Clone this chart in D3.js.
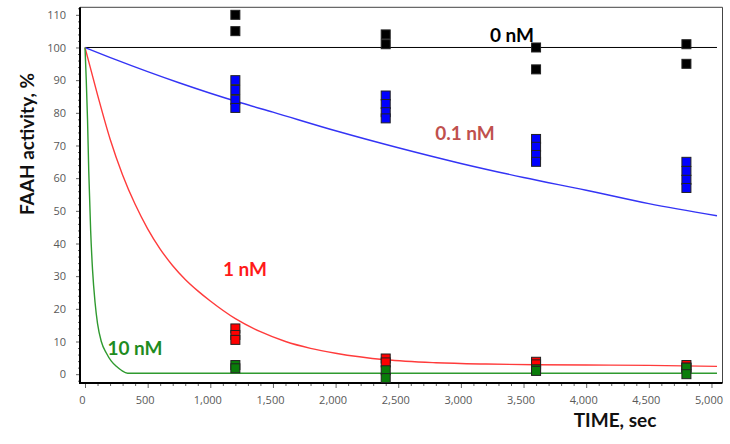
<!DOCTYPE html>
<html>
  <head>
    <meta charset="utf-8">
    <script src="https://cdn.jsdelivr.net/npm/d3@7"></script>
    <style>
      body { margin: 0; background: #fff; }
      .title { font-family: Lato, "Open Sans", sans-serif; font-weight: bold; }
    </style>
  </head>
  <body>
    <script>
      WIDTH = 730
      HEIGHT = 444

      // measured time points (sec)
      var sampleTimes = [1200, 2400, 3600, 4800]

      // replicate measurements per time point, FAAH activity %
      var points0 = [[110, 105], [104, 101], [100, 93.3], [101, 95]]
      var points01 = [[90, 87, 84, 81.5], [85.3, 82.7, 80.2, 78.3], [72, 69.6, 67.1, 65], [65, 62.2, 59.5, 57]]
      var points1 = [[14, 12, 10.5], [4.8, 3.6], [3.8, 3], [2.8, 2]]
      var points10 = [[2.8, 1.8], [1.2, -1.2], [1.5, 1], [2, 0]]

      // fitted curves
      var fitTime0 = [0, 5044]
      var fitValue0 = [100, 100]
      var fitTime01 = [0, 250, 500, 750, 1000, 1250, 1500, 2000, 2500, 3000, 3500, 4000, 4500, 5044]
      var fitValue01 = [100, 96.2, 92.6, 89.2, 86, 83, 80.2, 74.5, 69.3, 64.5, 60.2, 56.3, 52.2, 48.5]
      var fitTime1 = [0, 100, 200, 300, 400, 500, 600, 700, 800, 900, 1000, 1200, 1400, 1600, 1800, 2000, 2400, 2800, 3200, 3600, 4000, 4500, 5044]
      var fitValue1 = [100, 85.5, 72, 61, 52, 44.5, 38.3, 33.2, 29, 25.5, 22.4, 17, 13, 10, 7.9, 6.4, 4.4, 3.5, 3.1, 2.9, 2.8, 2.7, 2.4]
      var fitTime10 = [0, 10, 20, 30, 45, 60, 80, 100, 130, 170, 210, 250, 290, 340, 5044]
      var fitValue10 = [100, 90, 78, 62, 44, 32, 22, 15.5, 10, 6.5, 4, 2.4, 1.2, 0.3, 0.3]

      // axis ticks
      var xMajor = [0, 500, 1000, 1500, 2000, 2500, 3000, 3500, 4000, 4500, 5000]
      var yMajor = [0, 10, 20, 30, 40, 50, 60, 70, 80, 90, 100, 110]

      var svg = d3.select("body").append("svg")
        .attr("width", WIDTH)
        .attr("height", HEIGHT)

      var x = d3.scaleLinear().domain([-40, 5088]).range([80, 722.5])
      var y = d3.scaleLinear().domain([-2.7, 112.3]).range([383, 7.3])

      // frame: thin top/right, thick left/bottom
      svg.append("line").attr("x1", 80).attr("x2", 722.5).attr("y1", 7.3).attr("y2", 7.3)
        .attr("stroke", "#444").attr("stroke-width", 1)
      svg.append("line").attr("x1", 722.5).attr("x2", 722.5).attr("y1", 7.3).attr("y2", 383)
        .attr("stroke", "#444").attr("stroke-width", 1)

      function styleTicks(g) {
        g.select(".domain").remove()
        g.selectAll("line").attr("stroke", "#666")
        g.selectAll("text")
          .attr("fill", "#595959")
          .attr("font-family", "'Open Sans', sans-serif")
          .attr("font-size", 11)
      }

      // y axis
      var yAxis = d3.axisLeft(y).tickValues(yMajor).tickSize(4).tickSizeOuter(0).tickPadding(10)
      var gy = svg.append("g").attr("transform", "translate(80,0)").call(yAxis)
      styleTicks(gy)
      var yMinor = d3.range(-2, 113, 2).filter(function(v) { return v % 10 != 0 })
      var gyMinor = svg.append("g").attr("transform", "translate(80,0)")
        .call(d3.axisLeft(y).tickValues(yMinor).tickSize(2).tickSizeOuter(0).tickFormat(""))
      styleTicks(gyMinor)

      // x axis
      var xAxis = d3.axisBottom(x).tickValues(xMajor).tickSize(5).tickSizeOuter(0)
        .tickPadding(8).tickFormat(d3.format(","))
      var gx = svg.append("g").attr("transform", "translate(0,383)").call(xAxis)
      styleTicks(gx)
      gx.selectAll("text").attr("dx", -3)
      var xMinor = d3.range(100, 5000, 100).filter(function(v) { return v % 500 != 0 })
      var gxMinor = svg.append("g").attr("transform", "translate(0,383)")
        .call(d3.axisBottom(x).tickValues(xMinor).tickSize(3).tickSizeOuter(0).tickFormat(""))
      styleTicks(gxMinor)

      // thick axis lines
      svg.append("line").attr("x1", 80).attr("x2", 80).attr("y1", 7.3).attr("y2", 384)
        .attr("stroke", "#000").attr("stroke-width", 2)
      svg.append("line").attr("x1", 79).attr("x2", 722.5).attr("y1", 383).attr("y2", 383)
        .attr("stroke", "#000").attr("stroke-width", 2)

      // fitted curves
      var line = d3.line()
        .x(function(d) { return x(d[0]) })
        .y(function(d) { return y(d[1]) })
        .curve(d3.curveMonotoneX)

      function drawFit(times, values, color, width) {
        svg.append("path")
          .datum(d3.zip(times, values))
          .attr("d", line)
          .attr("fill", "none")
          .attr("stroke", color)
          .attr("stroke-width", width)
      }
      drawFit(fitTime0, fitValue0, "#000", 1)
      drawFit(fitTime01, fitValue01, "#3434f5", 1.4)
      drawFit(fitTime1, fitValue1, "#ff3b3b", 1.4)
      drawFit(fitTime10, fitValue10, "#2f9a2f", 1.4)

      // measured points as squares
      var SQ = 9
      function drawPoints(groups, fill) {
        var flat = []
        groups.forEach(function(vals, i) {
          vals.forEach(function(v) { flat.push([sampleTimes[i], v]) })
        })
        svg.append("g").selectAll("rect")
          .data(flat)
          .enter()
          .append("rect")
          .attr("x", function(d) { return x(d[0]) - SQ / 2 })
          .attr("y", function(d) { return y(d[1]) - SQ / 2 })
          .attr("width", SQ)
          .attr("height", SQ)
          .attr("fill", fill)
          .attr("stroke", "#222")
          .attr("stroke-width", 1)
      }
      drawPoints(points0, "#000")
      drawPoints(points01, "#0000ff")
      drawPoints(points1, "#ff0000")
      drawPoints(points10, "#0a7d0a")

      // curve labels
      svg.append("text").attr("class", "title").attr("x", 512).attr("y", 42)
        .attr("text-anchor", "middle").attr("font-size", 19).attr("fill", "#000").text("0 nM")
      svg.append("text").attr("class", "title").attr("x", 465).attr("y", 140)
        .attr("text-anchor", "middle").attr("font-size", 19).attr("fill", "#c0504d").text("0.1 nM")
      svg.append("text").attr("class", "title").attr("x", 245).attr("y", 276)
        .attr("text-anchor", "middle").attr("font-size", 19).attr("fill", "#ff1a1a").text("1 nM")
      svg.append("text").attr("class", "title").attr("x", 135).attr("y", 355)
        .attr("text-anchor", "middle").attr("font-size", 19).attr("fill", "#1f8c1f").text("10 nM")

      // axis titles
      svg.append("text").attr("class", "title")
        .attr("transform", "translate(34,144) rotate(-90)")
        .attr("text-anchor", "middle").attr("font-size", 19).attr("fill", "#111")
        .text("FAAH activity, %")
      svg.append("text").attr("class", "title").attr("x", 615).attr("y", 427)
        .attr("text-anchor", "middle").attr("font-size", 19).attr("fill", "#111")
        .text("TIME, sec")
    </script>
  </body>
</html>
